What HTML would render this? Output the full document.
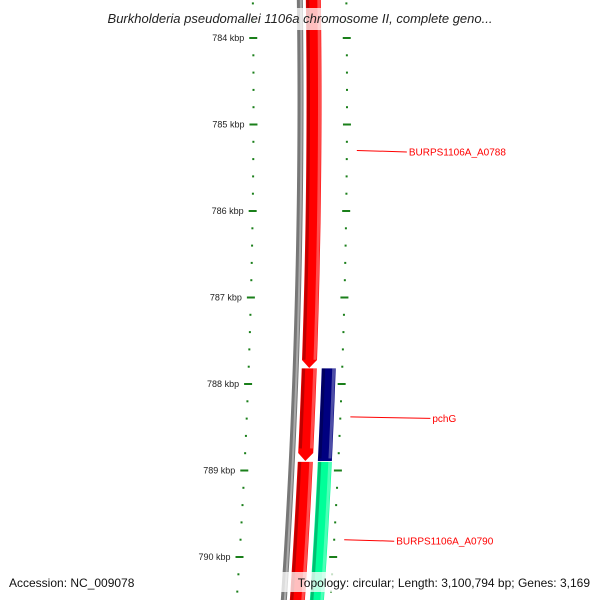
<!DOCTYPE html>
<html><head><meta charset="utf-8"><style>
html,body{margin:0;padding:0;background:#fff;}
svg{display:block;font-family:"Liberation Sans","DejaVu Sans",sans-serif;}
</style></head><body>
<svg id="map" width="600" height="600" viewBox="0 0 600 600" xmlns="http://www.w3.org/2000/svg">
<g id="backbone"></g>
<g id="ticks"></g>
<g id="features"></g>
<g id="labels"></g>
<rect x="60" y="8" width="480" height="22" fill="#fff" fill-opacity="0.75"/>
<text x="300" y="23" text-anchor="middle" font-size="13" font-style="italic" fill="#222">Burkholderia pseudomallei 1106a chromosome II, complete geno...</text>
<rect x="4" y="572" width="150" height="20" fill="#fff" fill-opacity="0.75"/>
<text x="9" y="587" font-size="12" fill="#111">Accession: NC_009078</text>
<rect x="258" y="572" width="338" height="20" fill="#fff" fill-opacity="0.75"/>
<text x="590" y="587" text-anchor="end" font-size="12" fill="#111">Topology: circular; Length: 3,100,794 bp; Genes: 3,169</text>
</svg>
<script>
const majorTicks = [784, 785, 786, 787, 788, 789, 790];
const tickLabels = ["784 kbp", "785 kbp", "786 kbp", "787 kbp", "788 kbp", "789 kbp", "790 kbp"];
const featureNames = ["BURPS1106A_A0788", "pchG-red", "BURPS1106A_A0790-red", "pchG", "BURPS1106A_A0790"];
const featureStarts = [783.5, 787.82, 788.9, 787.82, 788.9];
const featureEnds = [787.815, 788.89, 790.6, 788.89, 790.6];
const featureRings = [0, 0, 0, 1, 1];
const featureColors = ["#ff0000", "#ff0000", "#ff0000", "#000080", "#00ff99"];
const featureArrow = [true, true, false, false, false];
const labelTexts = ["BURPS1106A_A0788", "pchG", "BURPS1106A_A0790"];
const labelKbp = [785.3, 788.38, 789.8];

const NS = "http://www.w3.org/2000/svg";
const yOf = k => 38 + (k - 784) * 86.5;
const xOf = (x0, y) => x0 - (y - 100) * (y - 100) / (2 * (7500 + x0 - 300));
const ringX = [314, 333.5];
const ringW = [15, 14];
function mk(tag, attrs, parent) { const e = document.createElementNS(NS, tag); for (const k in attrs) e.setAttribute(k, attrs[k]); parent.appendChild(e); return e; }
function arcPath(x0, y1, y2) { let d = ""; for (let y = y1; y <= y2 + 0.01; y += 5) { d += (d ? "L" : "M") + xOf(x0, y).toFixed(2) + "," + y.toFixed(2); } return d; }

const bb = document.getElementById("backbone");
let g1 = mk("path", {d: arcPath(300.5, -5, 605), stroke: "#777", "stroke-width": 6, fill: "none"}, bb);


let g2 = mk("path", {d: arcPath(301.5, -5, 605), stroke: "#aaa", "stroke-width": 2, fill: "none"}, bb);



const tk = document.getElementById("ticks");
for (let k = 783.4; k <= 790.61; k += 0.2) {
  const kk = Math.round(k * 10) / 10;
  const y = yOf(kk);
  const major = Math.abs(kk - Math.round(kk)) < 0.01;
  const hl = major ? 4 : 1;
  [253.5, 347].forEach(x0 => {
    const x = xOf(x0, y);
    const t = mk("line", {x1: x - hl, x2: x + hl, y1: y, y2: y, stroke: "#1a7f1a", "stroke-width": 2}, tk);
    
    
  });
}
majorTicks.forEach((k, i) => {
  const y = yOf(k);
  const t = mk("text", {x: xOf(253.5, y) - 9, y: y + 3, "text-anchor": "end", "font-size": 9, fill: "#222"}, tk);
  t.textContent = tickLabels[i];
  
  
});

const ft = document.getElementById("features");
featureNames.forEach((n, i) => {
  const x0 = ringX[featureRings[i]], w = ringW[featureRings[i]];
  const y1 = yOf(featureStarts[i]), y2 = yOf(featureEnds[i]);
  const shoulder = featureArrow[i] ? y2 - 8 : y2;
  const L = [], R = [];
  for (let y = y1; y < shoulder; y += 4) { L.push([xOf(x0 - w / 2, y), y]); R.push([xOf(x0 + w / 2, y), y]); }
  L.push([xOf(x0 - w / 2, shoulder), shoulder]); R.push([xOf(x0 + w / 2, shoulder), shoulder]);
  let pts = L.slice();
  if (featureArrow[i]) pts.push([xOf(x0, y2), y2]);
  pts = pts.concat(R.reverse());
  const p = mk("polygon", {points: pts.map(q => q[0].toFixed(2) + "," + q[1].toFixed(2)).join(" "), fill: featureColors[i]}, ft);
  
  
  const edge = mk("path", {d: arcPath(x0 - w / 2 + 2, y1, shoulder), stroke: "#000", "stroke-opacity": 0.25, "stroke-width": 3, fill: "none"}, ft);
  
  
  const hi = mk("path", {d: arcPath(x0 + w / 2 - 2, y1, shoulder), stroke: "#fff", "stroke-opacity": 0.3, "stroke-width": 3, fill: "none"}, ft);
  
  
});

const lb = document.getElementById("labels");
const labelOffsets = [50, 80, 50];
labelTexts.forEach((t, i) => {
  const y = yOf(labelKbp[i]);
  const xs = xOf(357, y);
  const xe = xs + labelOffsets[i];
  const ln = mk("line", {x1: xs, y1: y, x2: xe, y2: y + 1.5, stroke: "#ff0000", "stroke-width": 1}, lb);
  
  
  const tx = mk("text", {x: xe + 2, y: y + 5, "font-size": 10, fill: "#ff0000"}, lb);
  tx.textContent = t;
  
  
});
</script>
</body></html>
